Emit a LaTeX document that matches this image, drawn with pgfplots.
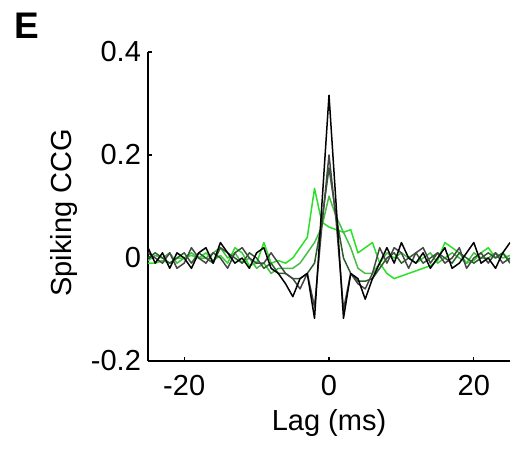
\documentclass[border=0pt]{standalone}
\usepackage{pgfplots}
\pgfplotsset{compat=1.18}
\usepackage{pgfplotstable}
\usepackage{fontspec}
\setmainfont{Liberation Sans}

% lag (ms) and five spiking CCG traces, green -> black
\pgfplotstableread{
lag    e       d       c       b       a
-25   -0.010  -0.005   0.000   0.010   0.020
-24   -0.010   0.005   0.010   0.000  -0.010
-23   -0.005   0.000   0.000  -0.010   0.010
-22   -0.010   0.010  -0.010   0.010  -0.020
-21    0.000  -0.010   0.000  -0.020   0.010
-20    0.000   0.000   0.010  -0.010   0.000
-19    0.005   0.010  -0.010   0.020  -0.020
-18    0.000   0.000   0.010   0.000   0.010
-17    0.010   0.000   0.000  -0.010   0.020
-16   -0.005   0.010  -0.010   0.010  -0.010
-15    0.005   0.020   0.020   0.000   0.030
-14   -0.010   0.000   0.010  -0.020   0.010
-13    0.020   0.010   0.000   0.010  -0.010
-12    0.010  -0.010  -0.010   0.020   0.000
-11   -0.015   0.000   0.010   0.000  -0.020
-10   -0.010  -0.020   0.000  -0.010   0.010
-9     0.030  -0.010  -0.020  -0.010   0.020
-8    -0.010  -0.030  -0.010   0.010  -0.020
-7    -0.005  -0.020  -0.030  -0.010  -0.030
-6    -0.010  -0.020  -0.030  -0.030  -0.050
-5     0.000  -0.020  -0.040  -0.040  -0.075
-4     0.020  -0.010  -0.040  -0.060  -0.040
-3     0.040   0.010  -0.030  -0.030  -0.030
-2     0.135   0.030  -0.010  -0.095  -0.117
-1     0.070   0.060   0.070   0.060   0.100
0      0.060   0.120   0.175   0.200   0.316
1      0.055   0.080   0.080   0.070   0.100
2      0.050   0.050   0.000  -0.100  -0.117
3      0.055   0.020  -0.030  -0.030  -0.030
4      0.010  -0.020  -0.045  -0.050  -0.040
5      0.020  -0.030  -0.045  -0.060  -0.080
6      0.030  -0.030  -0.040  -0.030  -0.040
7     -0.010  -0.010  -0.020   0.020  -0.010
8     -0.030   0.010   0.000  -0.010   0.020
9     -0.040   0.000   0.010   0.020  -0.010
10    -0.035   0.010  -0.010   0.010   0.030
11    -0.030   0.000   0.000  -0.020   0.000
12    -0.025  -0.010   0.010   0.010  -0.010
13    -0.020   0.000  -0.010   0.020   0.010
14    -0.015   0.010   0.000  -0.010  -0.020
15    -0.005  -0.010   0.010   0.010   0.000
16     0.030   0.000   0.000  -0.010   0.020
17     0.020   0.010  -0.010   0.000  -0.020
18     0.010   0.000   0.010   0.020  -0.010
19    -0.010  -0.010   0.000  -0.020   0.010
20    -0.005   0.010  -0.010   0.000   0.030
21     0.010   0.000   0.000   0.010  -0.010
22     0.020   0.000   0.010  -0.010   0.000
23     0.000   0.010   0.000   0.010  -0.020
24     0.010   0.000   0.010  -0.010   0.010
25    -0.005   0.005  -0.010   0.000   0.030
}\ccg

\definecolor{gA}{RGB}{0,0,0}
\definecolor{gB}{RGB}{70,70,70}
\definecolor{gC}{RGB}{45,95,45}
\definecolor{gD}{RGB}{70,190,70}
\definecolor{gE}{RGB}{40,225,40}

\begin{document}
\begin{tikzpicture}
\useasboundingbox (0,0) rectangle (256pt,224pt);
\node[anchor=north west, inner sep=0pt, font=\fontsize{18.5}{20}\selectfont\bfseries] at (7pt,217.5pt) {E};
\begin{axis}[
  at={(74pt,43.5pt)}, anchor=south west,
  scale only axis, width=181pt, height=154.5pt,
  xmin=-25, xmax=25, ymin=-0.2, ymax=0.4,
  axis lines*=left, axis line style={line width=0.6pt},
  tick align=inside, major tick length=2pt, tick style={line width=0.6pt, black},
  xtick={-20,0,20}, xticklabels={-20,0,20},
  ytick={-0.2,0,0.2,0.4}, yticklabels={-0.2,0,0.2,0.4},
  tick label style={font=\fontsize{14.5}{16}\selectfont},
  xticklabel style={yshift=-3.5pt},
  label style={font=\fontsize{14.5}{16}\selectfont},
  xlabel={Lag (ms)}, ylabel={Spiking CCG},
  xlabel style={at={(axis description cs:0.5,-0.2)}, anchor=center},
  ylabel style={at={(axis description cs:-0.232,0.479)}, anchor=center},
  every axis plot/.append style={line width=0.75pt, line join=round},
  clip=true,
]
\addplot[gE] table[x=lag, y=e] {\ccg};
\addplot[gD] table[x=lag, y=d] {\ccg};
\addplot[gC] table[x=lag, y=c] {\ccg};
\addplot[gB] table[x=lag, y=b] {\ccg};
\addplot[gA] table[x=lag, y=a] {\ccg};
\end{axis}
\end{tikzpicture}
\end{document}
